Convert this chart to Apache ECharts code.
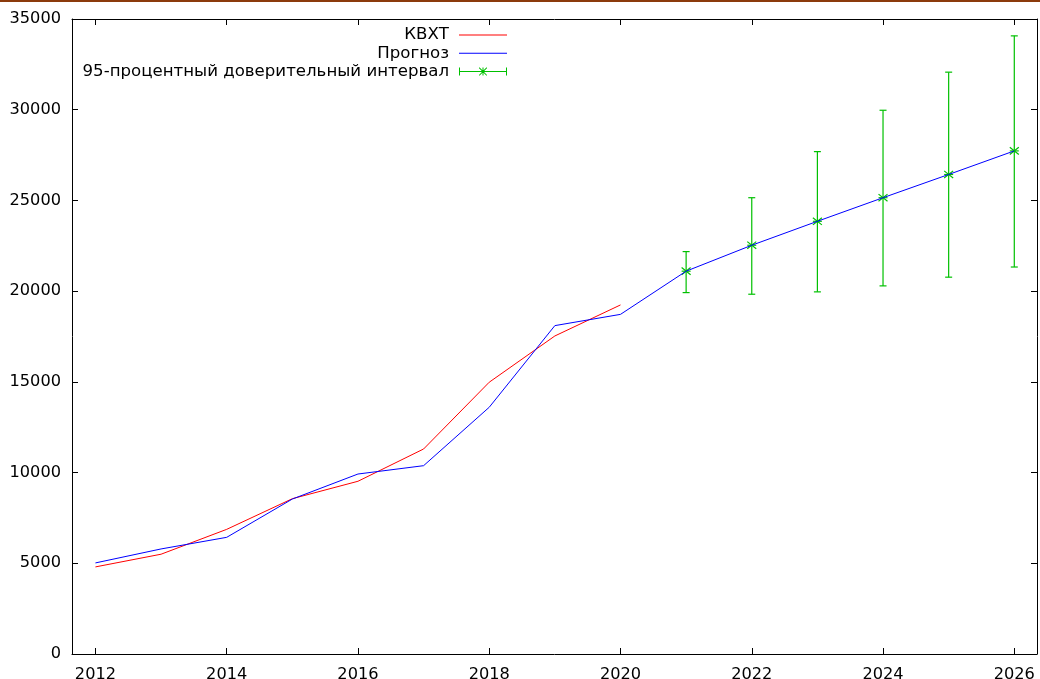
<!DOCTYPE html>
<html>
<head>
<meta charset="utf-8">
<script src="https://cdn.jsdelivr.net/npm/echarts@6/dist/echarts.min.js"></script>
<style>
html,body{margin:0;padding:0;background:#fff;}
#chart{width:1040px;height:679px;}
</style>
</head>
<body>
<div id="chart"></div>
<script>
// ---- data ----
const kvhtYears = [2012, 2013, 2014, 2015, 2016, 2017, 2018, 2019, 2020];
const kvhtValues = [4800, 5500, 6870, 8560, 9520, 11300, 14980, 17530, 19240];

const forecastYears = [2012, 2013, 2014, 2015, 2016, 2017, 2018, 2019, 2020, 2021, 2022, 2023, 2024, 2025, 2026];
const forecastValues = [5020, 5790, 6430, 8540, 9920, 10380, 13600, 18100, 18720, 21100, 22530, 23850, 25150, 26430, 27730];

const ciYears = [2021, 2022, 2023, 2024, 2025, 2026];
const ciCenter = [21100, 22530, 23850, 25150, 26430, 27730];
const ciLow = [19920, 19830, 19960, 20290, 20770, 21330];
const ciHigh = [22180, 25150, 27690, 29970, 32070, 34070];

const xTickValues = [2012, 2014, 2016, 2018, 2020, 2022, 2024, 2026];
const seriesNames = ['КВХТ', 'Прогноз', '95-процентный доверительный интервал'];

// ---- styles ----
const RED = '#ff0000', BLUE = '#0000ff', GREEN = '#00c000';
const FONT = 'DejaVu Sans';

const kvhtData = kvhtYears.map((y, i) => [y, kvhtValues[i]]);
const forecastData = forecastYears.map((y, i) => [y, forecastValues[i]]);
const ciData = ciYears.map((y, i) => [y, ciLow[i], ciHigh[i], ciCenter[i]]);

const xMin = 2011.643, xMax = 2026.346;

function xAxisBase(pos, showLabel) {
  return {
    type: 'value', position: pos, min: xMin, max: xMax,
    axisLine: {show: true, onZero: false, lineStyle: {color: '#000', width: 1}},
    axisTick: {show: true, inside: true, length: 6, customValues: xTickValues, lineStyle: {color: '#000', width: 1}},
    axisLabel: {show: showLabel, customValues: xTickValues, formatter: v => String(v), color: '#000',
      fontFamily: FONT, fontSize: 16.2, margin: 13},
    splitLine: {show: false}
  };
}
function yAxisBase(pos, showLabel) {
  return {
    type: 'value', position: pos, min: 0, max: 35000, interval: 5000,
    axisLine: {show: true, onZero: false, lineStyle: {color: '#000', width: 1}},
    axisTick: {show: true, inside: true, length: 6, lineStyle: {color: '#000', width: 1}},
    axisLabel: {show: showLabel, formatter: v => String(v), color: '#000',
      fontFamily: FONT, fontSize: 16.2, margin: 11},
    splitLine: {show: false}
  };
}

const chart = echarts.init(document.getElementById('chart'), null, {renderer: 'canvas'});
chart.setOption({
  animation: false,
  backgroundColor: '#fff',
  graphic: [{type: 'rect', left: 0, top: 0, shape: {width: 1040, height: 2}, style: {fill: '#8b3a0c'}, silent: true}],
  grid: {left: 72, right: 3, top: 19, bottom: 25, containLabel: false, outerBoundsMode: 'none'},
  xAxis: [xAxisBase('bottom', true), xAxisBase('top', false)],
  yAxis: [yAxisBase('left', true), yAxisBase('right', false)],
  legend: {
    orient: 'vertical', align: 'right', right: 533, top: 26.5, padding: 0,
    itemWidth: 48, itemHeight: 16, itemGap: 1.3, selectedMode: false,
    textStyle: {color: '#000', fontFamily: FONT, fontSize: 16.6, lineHeight: 16, padding: [0, 5, 0, 0]},
    itemStyle: {borderWidth: 0},
    data: [
      {name: seriesNames[0], icon: 'path://M0,0H48V1H0Z', itemStyle: {color: RED}},
      {name: seriesNames[1], icon: 'path://M0,0H48V1H0Z', itemStyle: {color: BLUE}},
      {name: seriesNames[2], itemStyle: {color: GREEN},
        icon: 'path://M0,3.5H48V4.5H0Z M0,0H1V8H0Z M47,0H48V8H47Z M23.5,0H24.5V8H23.5Z M20,0L20.7,0L28,7.3L28,8L27.3,8L20,0.7Z M28,0L28,0.7L20.7,8L20,8L20,7.3L27.3,0Z'}
    ]
  },
  series: [
    {name: seriesNames[0], type: 'line', data: kvhtData, symbol: 'none', color: RED,
      lineStyle: {color: RED, width: 1}, itemStyle: {color: RED}},
    {name: seriesNames[1], type: 'line', data: forecastData, symbol: 'none', color: BLUE,
      lineStyle: {color: BLUE, width: 1}, itemStyle: {color: BLUE}},
    {name: seriesNames[2], type: 'custom', data: ciData, itemStyle: {color: GREEN},
      encode: {x: 0, y: [1, 2, 3]},
      renderItem: function (params, api) {
        const x = api.value(0);
        const lo = api.coord([x, api.value(1)]);
        const hi = api.coord([x, api.value(2)]);
        const c = api.coord([x, api.value(3)]);
        const st = {stroke: GREEN, lineWidth: 1.2, fill: null};
        const cap = 3.5, s = 4.5;
        const ln = (x1, y1, x2, y2) => ({type: 'line', shape: {x1, y1, x2, y2}, style: st});
        return {type: 'group', children: [
          ln(lo[0], lo[1], hi[0], hi[1]),
          ln(lo[0] - cap, lo[1], lo[0] + cap, lo[1]),
          ln(hi[0] - cap, hi[1], hi[0] + cap, hi[1]),
          ln(c[0] - s, c[1], c[0] + s, c[1]),
          ln(c[0] - s, c[1] - s * 0.8, c[0] + s, c[1] + s * 0.8),
          ln(c[0] - s, c[1] + s * 0.8, c[0] + s, c[1] - s * 0.8)
        ]};
      }
    }
  ]
});
</script>
</body>
</html>
